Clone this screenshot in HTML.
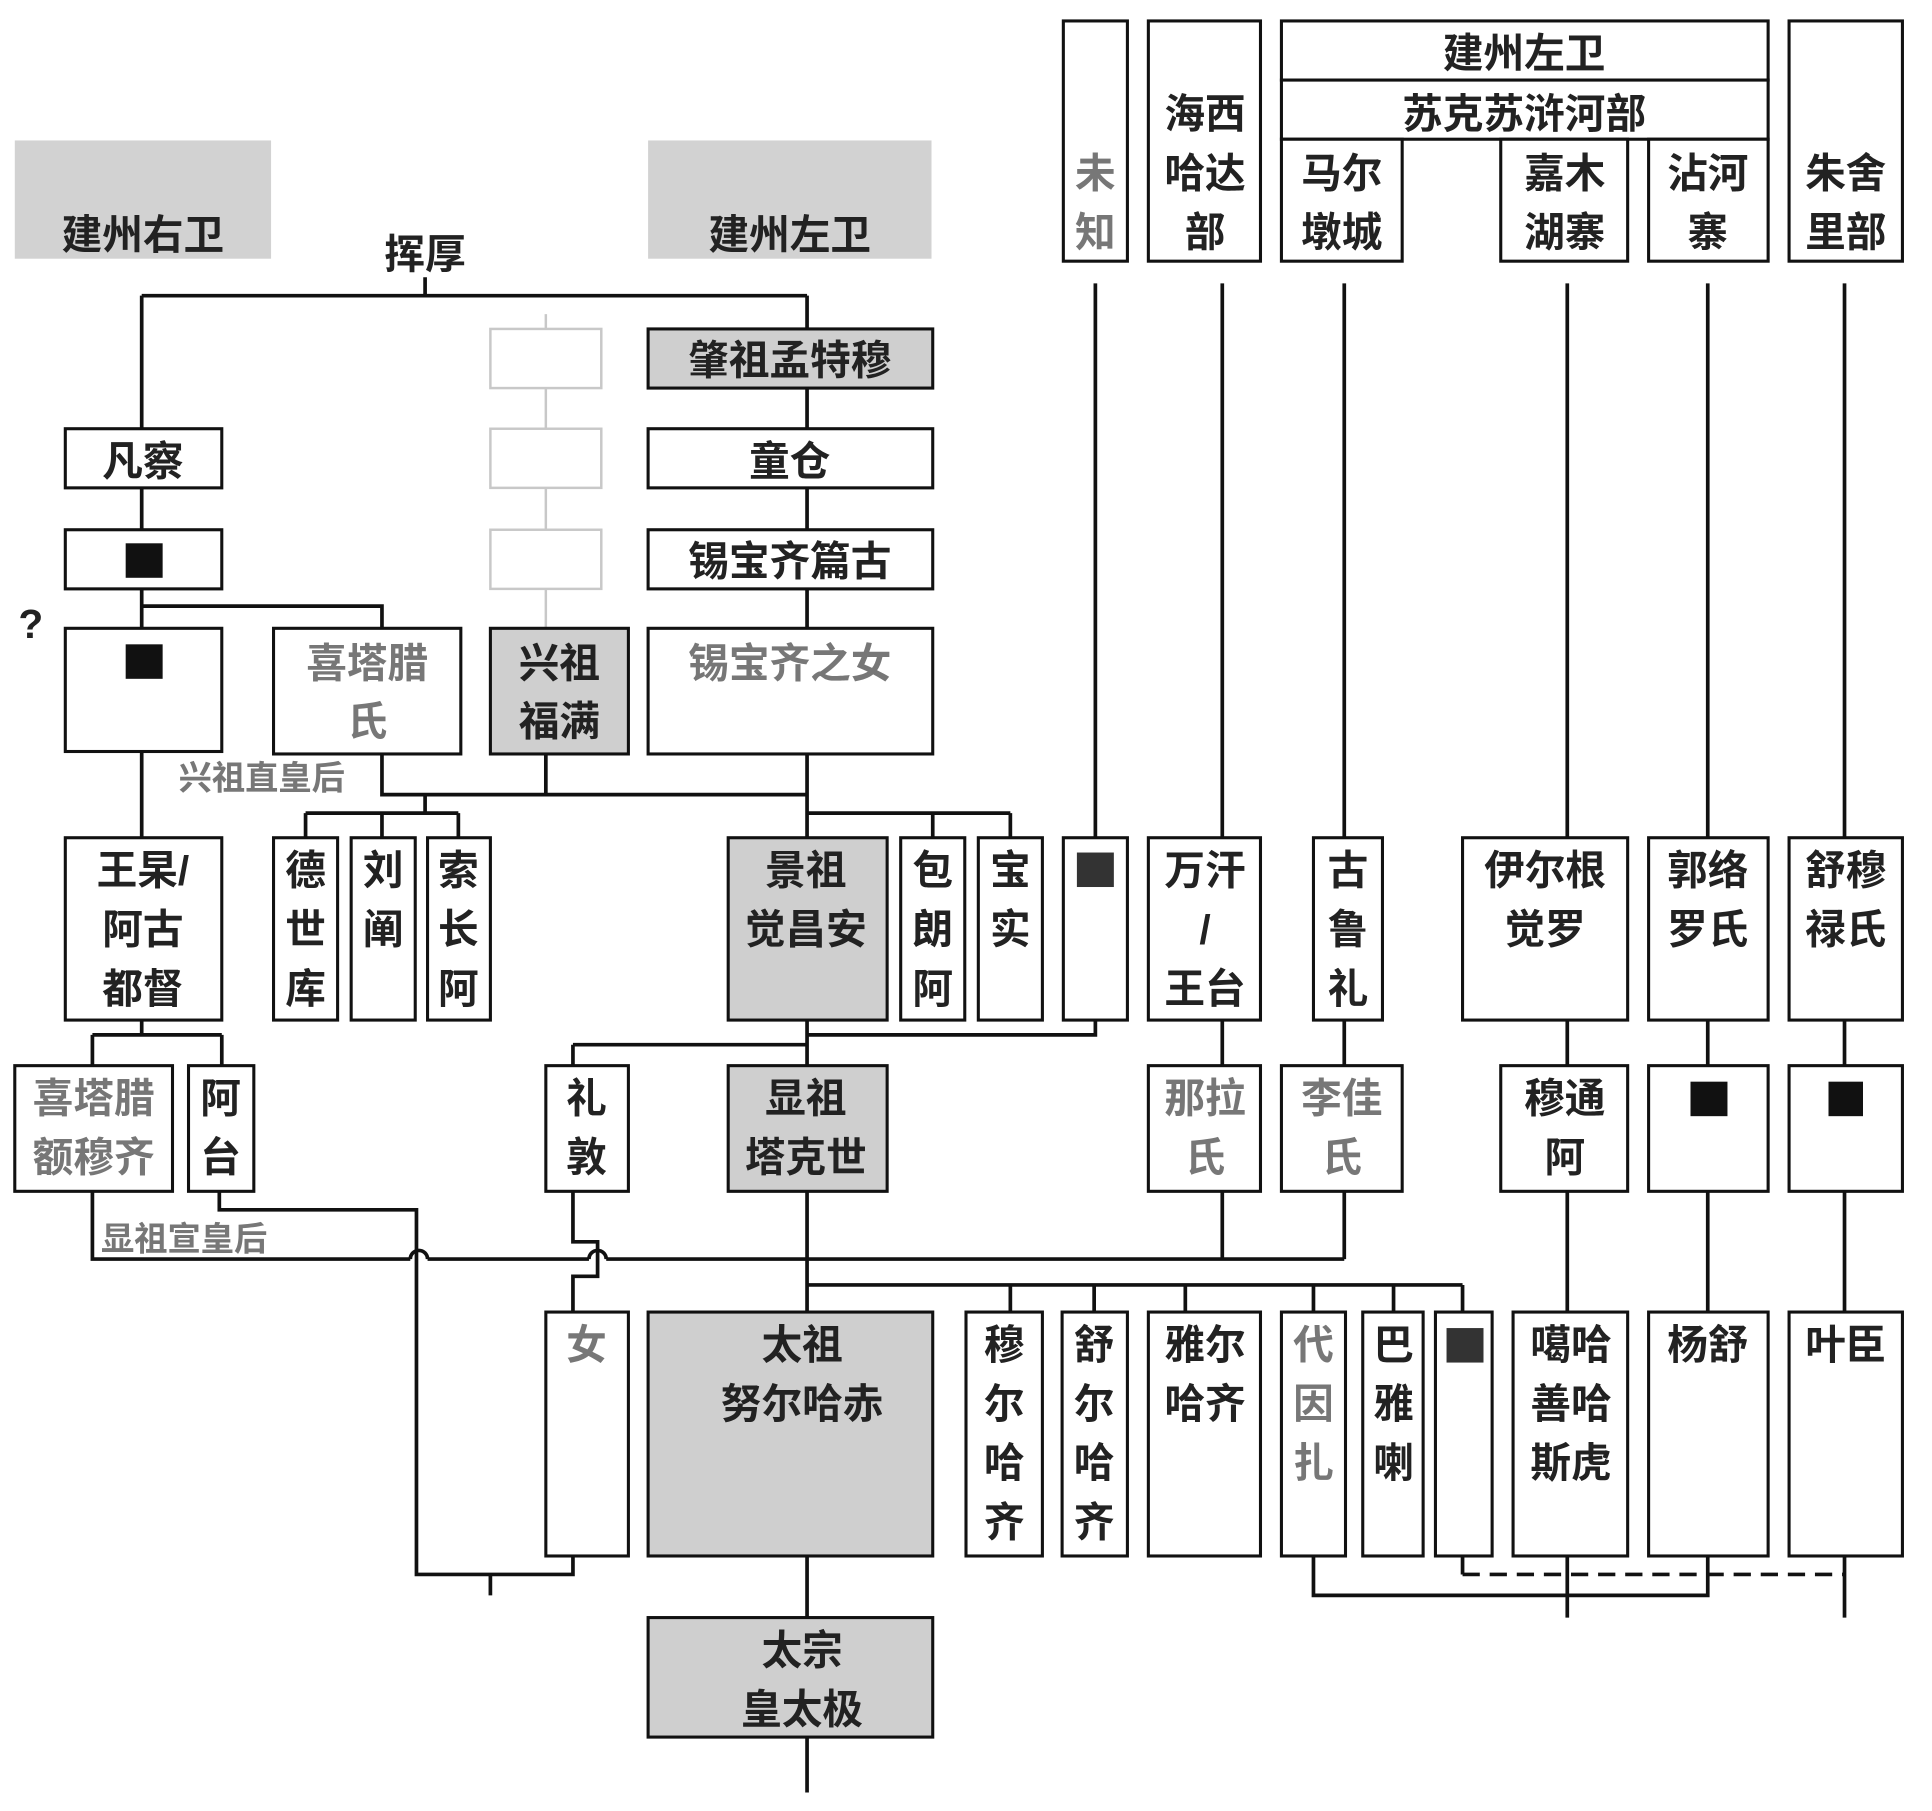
<!DOCTYPE html>
<html><head><meta charset="utf-8"><style>
html,body{margin:0;padding:0;background:#fff}
svg{display:block}
text{font-family:"Liberation Sans","Noto Sans CJK SC",sans-serif;font-size:33px;fill:#222;text-anchor:middle;font-weight:bold}
.g{fill:#777}
.s{font-size:27px;text-anchor:start}
</style></head><body>
<svg width="1932" height="1811" viewBox="0 0 1568 1470" preserveAspectRatio="none" xmlns="http://www.w3.org/2000/svg">
<g stroke="#111" stroke-width="3" fill="none">
<path d="M345 225V240M115 240H655M115 240V348M655 240V268M655 315V348M655 396V430M655 478V510M655 612V680"/>
<path d="M115 396V430M115 478V510M115 492H310V510M115 610V680"/>
<path d="M310 612V645H655M443 612V645M345 645V660M248 660H372M248 660V680M310 660V680M372 660V680"/>
<path d="M655 660H820M757 660V680M820 660V680"/>
<path d="M889 230V680M992 230V680M1091 230V680M1272 230V680M1386 230V680M1497 230V680"/>
<path d="M655 828V865M655 840H889V828M465 848H655M465 848V865"/>
<path d="M115 828V840M75 840H180M75 840V865M180 840V865"/>
<path d="M992 828V865M1091 828V865M1272 828V865M1386 828V865M1497 828V865"/>
<path d="M75 967V1022H333M347 1022H478M492 1022H1091M992 967V1022M1091 967V1022M655 967V1065"/>
<path d="M333 1022a7 7 0 0 1 14 0M478 1022a7 7 0 0 1 14 0"/>
<path d="M178 967V982H338V1278H465V1263M398 1278V1295"/>
<path d="M465 967V1008H485V1036H465V1065"/>
<path d="M655 1043H1187M820 1043V1065M888 1043V1065M962 1043V1065M1066 1043V1065M1131 1043V1065M1187 1043V1065"/>
<path d="M1272 967V1065M1386 967V1065M1497 967V1065"/>
<path d="M655 1263V1313M655 1410V1455"/>
<path d="M1066 1263V1295H1386V1263M1272 1263V1313M1187 1263V1278M1497 1263V1313"/>
<path d="M1187 1278H1497" stroke-dasharray="14 8"/>
</g>
<g stroke="#c8c8c8" stroke-width="2" fill="#fff">
<path d="M443 255V510"/>
<rect x="398" y="267" width="90" height="48"/><rect x="398" y="348" width="90" height="48"/><rect x="398" y="430" width="90" height="48"/>
</g>
<rect x="12" y="114" width="208" height="96" fill="#d2d2d2"/>
<rect x="526" y="114" width="230" height="96" fill="#d2d2d2"/>
<g stroke="#111" stroke-width="2.5" fill="#fff">
<rect x="526" y="267" width="231" height="48" fill="#cfcfcf"/>
<rect x="526" y="348" width="231" height="48"/>
<rect x="526" y="430" width="231" height="48"/>
<rect x="526" y="510" width="231" height="102"/>
<rect x="53" y="348" width="127" height="48"/>
<rect x="53" y="430" width="127" height="48"/>
<rect x="53" y="510" width="127" height="100"/>
<rect x="222" y="510" width="152" height="102"/>
<rect x="398" y="510" width="112" height="102" fill="#cfcfcf"/>
<rect x="53" y="680" width="127" height="148"/>
<rect x="222" y="680" width="52" height="148"/>
<rect x="285" y="680" width="52" height="148"/>
<rect x="347" y="680" width="51" height="148"/>
<rect x="591" y="680" width="129" height="148" fill="#cfcfcf"/>
<rect x="731" y="680" width="52" height="148"/>
<rect x="794" y="680" width="52" height="148"/>
<rect x="863" y="680" width="52" height="148"/>
<rect x="932" y="680" width="91" height="148"/>
<rect x="1066" y="680" width="56" height="148"/>
<rect x="1187" y="680" width="134" height="148"/>
<rect x="1338" y="680" width="97" height="148"/>
<rect x="1452" y="680" width="92" height="148"/>
<rect x="863" y="17" width="52" height="195"/>
<rect x="932" y="17" width="91" height="195"/>
<rect x="1040" y="17" width="395" height="48"/>
<rect x="1040" y="65" width="395" height="48"/>
<rect x="1040" y="113" width="98" height="99"/>
<rect x="1218" y="113" width="103" height="99"/>
<rect x="1338" y="113" width="97" height="99"/>
<rect x="1452" y="17" width="92" height="195"/>
<rect x="12" y="865" width="128" height="102"/>
<rect x="153" y="865" width="53" height="102"/>
<rect x="443" y="865" width="67" height="102"/>
<rect x="591" y="865" width="129" height="102" fill="#cfcfcf"/>
<rect x="932" y="865" width="91" height="102"/>
<rect x="1040" y="865" width="98" height="102"/>
<rect x="1218" y="865" width="103" height="102"/>
<rect x="1338" y="865" width="97" height="102"/>
<rect x="1452" y="865" width="92" height="102"/>
<rect x="443" y="1065" width="67" height="198"/>
<rect x="526" y="1065" width="231" height="198" fill="#cfcfcf"/>
<rect x="784" y="1065" width="62" height="198"/>
<rect x="862" y="1065" width="53" height="198"/>
<rect x="932" y="1065" width="91" height="198"/>
<rect x="1040" y="1065" width="52" height="198"/>
<rect x="1106" y="1065" width="49" height="198"/>
<rect x="1165" y="1065" width="46" height="198"/>
<rect x="1228" y="1065" width="93" height="198"/>
<rect x="1338" y="1065" width="97" height="198"/>
<rect x="1452" y="1065" width="92" height="198"/>
<rect x="526" y="1313" width="231" height="97" fill="#cfcfcf"/>
</g>
<g fill="#111">
<rect x="102" y="441" width="30" height="28"/>
<rect x="102" y="523" width="30" height="28"/>
<rect x="1372" y="878" width="30" height="28"/>
<rect x="1484" y="878" width="28" height="28"/>
</g>
<g fill="#333">
<rect x="874" y="692" width="30" height="28"/>
<rect x="1174" y="1078" width="30" height="28"/>
</g>
<text x="116" y="202" font-size="36">建州右卫</text>
<text x="641" y="202" font-size="36">建州左卫</text>
<text x="345" y="218">挥厚</text>
<text x="641" y="304">肇祖孟特穆</text>
<text x="641" y="386">童仓</text>
<text x="641" y="467">锡宝齐篇古</text>
<text x="641" y="550" class="g">锡宝齐之女</text>
<text x="116" y="386">凡察</text>
<text x="25" y="518" font-size="44">?</text>
<text x="298" y="550" class="g">喜塔腊</text><text x="298" y="597" class="g">氏</text>
<text x="454" y="550">兴祖</text><text x="454" y="597">福满</text>
<text x="145" y="641" class="s g">兴祖直皇后</text>
<text x="116" y="718">王杲/</text><text x="116" y="766">阿古</text><text x="116" y="814">都督</text>
<text x="248" y="718">德</text><text x="248" y="766">世</text><text x="248" y="814">库</text>
<text x="311" y="718">刘</text><text x="311" y="766">阐</text>
<text x="372" y="718">索</text><text x="372" y="766">长</text><text x="372" y="814">阿</text>
<text x="654" y="718">景祖</text><text x="654" y="766">觉昌安</text>
<text x="757" y="718">包</text><text x="757" y="766">朗</text><text x="757" y="814">阿</text>
<text x="820" y="718">宝</text><text x="820" y="766">实</text>
<text x="978" y="718">万汗</text><text x="978" y="766">/</text><text x="978" y="814">王台</text>
<text x="1094" y="718">古</text><text x="1094" y="766">鲁</text><text x="1094" y="814">礼</text>
<text x="1254" y="718">伊尔根</text><text x="1254" y="766">觉罗</text>
<text x="1386" y="718">郭络</text><text x="1386" y="766">罗氏</text>
<text x="1498" y="718">舒穆</text><text x="1498" y="766">禄氏</text>
<text x="889" y="152" class="g">未</text><text x="889" y="200" class="g">知</text>
<text x="978" y="104">海西</text><text x="978" y="152">哈达</text><text x="978" y="200">部</text>
<text x="1237" y="55">建州左卫</text>
<text x="1237" y="104">苏克苏浒河部</text>
<text x="1089" y="152">马尔</text><text x="1089" y="200">墩城</text>
<text x="1270" y="152">嘉木</text><text x="1270" y="200">湖寨</text>
<text x="1386" y="152">沾河</text><text x="1386" y="200">寨</text>
<text x="1498" y="152">朱舍</text><text x="1498" y="200">里部</text>
<text x="76" y="903" class="g">喜塔腊</text><text x="76" y="951" class="g">额穆齐</text>
<text x="179" y="903">阿</text><text x="179" y="951">台</text>
<text x="476" y="903">礼</text><text x="476" y="951">敦</text>
<text x="654" y="903">显祖</text><text x="654" y="951">塔克世</text>
<text x="978" y="903" class="g">那拉</text><text x="978" y="951" class="g">氏</text>
<text x="1089" y="903" class="g">李佳</text><text x="1089" y="951" class="g">氏</text>
<text x="1270" y="903">穆通</text><text x="1270" y="951">阿</text>
<text x="82" y="1015" class="s g">显祖宣皇后</text>
<text x="476" y="1103" class="g">女</text>
<text x="651" y="1103">太祖</text><text x="651" y="1151">努尔哈赤</text>
<text x="815" y="1103">穆</text><text x="815" y="1151">尔</text><text x="815" y="1199">哈</text><text x="815" y="1247">齐</text>
<text x="888" y="1103">舒</text><text x="888" y="1151">尔</text><text x="888" y="1199">哈</text><text x="888" y="1247">齐</text>
<text x="978" y="1103">雅尔</text><text x="978" y="1151">哈齐</text>
<text x="1066" y="1103" class="g">代</text><text x="1066" y="1151" class="g">因</text><text x="1066" y="1199" class="g">扎</text>
<text x="1131" y="1103">巴</text><text x="1131" y="1151">雅</text><text x="1131" y="1199">喇</text>
<text x="1275" y="1103">噶哈</text><text x="1275" y="1151">善哈</text><text x="1275" y="1199">斯虎</text>
<text x="1386" y="1103">杨舒</text>
<text x="1498" y="1103">叶臣</text>
<text x="651" y="1351">太宗</text><text x="651" y="1399">皇太极</text>
</svg>
</body></html>
